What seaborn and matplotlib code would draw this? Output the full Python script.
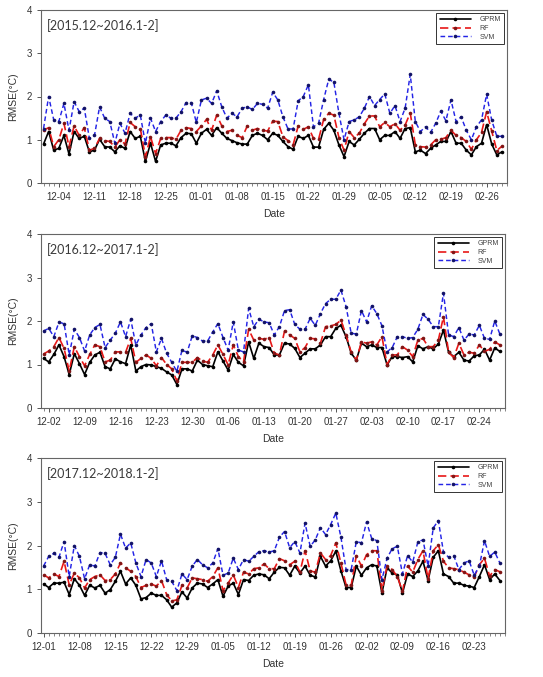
import numpy as np
import pandas as pd
import matplotlib
matplotlib.use("Agg")
import matplotlib.pyplot as plt
import matplotlib.dates as mdates
import seaborn as sns

# periodi (titolo, primo giorno, primo tick)
titoli = ["[2015.12~2016.1-2]", "[2016.12~2017.1-2]", "[2017.12~2018.1-2]"]
inizi = ["2015-12-01", "2016-12-01", "2017-12-01"]
primi_tick = ["2015-12-04", "2016-12-02", "2017-12-01"]

# 2015.12 ~ 2016.2 (91 giorni)
gprm_1 = [0.9, 1.19, 0.76, 0.8, 1.1, 0.67, 1.19, 1.03, 1.08, 0.72, 0.76, 1.01, 0.84, 0.83, 0.72,
          0.86, 0.8, 1.19, 1.03, 1.08, 0.5, 0.92, 0.5, 0.88, 0.92, 0.92, 0.86, 1.05, 1.15, 1.14,
          0.92, 1.15, 1.24, 1.1, 1.28, 1.15, 1.03, 0.98, 0.93, 0.9, 0.9, 1.1, 1.15, 1.1,
          1.0, 1.15, 1.1, 0.96, 0.84, 0.78, 1.08, 1.03, 1.1, 0.83, 0.83, 1.24, 1.38, 1.22, 0.88,
          0.61, 0.96, 0.88, 1.01, 1.15, 1.26, 1.26, 1.0, 1.1, 1.1, 1.19, 1.03, 1.26, 1.28, 0.72,
          0.76, 0.68, 0.8, 0.88, 0.96, 0.96, 1.19, 0.92, 0.92, 0.76, 0.65, 0.84, 0.92, 1.35,
          0.9, 0.65, 0.72]
rf_1 = [1.22, 1.28, 0.84, 1.0, 1.38, 0.84, 1.32, 1.1, 1.28, 0.76, 0.8, 1.03, 0.98, 0.96, 0.83,
        1.0, 0.9, 1.4, 1.3, 1.26, 0.61, 1.07, 0.68, 1.03, 1.05, 1.05, 1.01, 1.22, 1.28, 1.26,
        1.19, 1.32, 1.47, 1.22, 1.57, 1.32, 1.19, 1.22, 1.1, 1.05, 1.32, 1.22, 1.26, 1.22,
        1.2, 1.43, 1.42, 1.07, 0.98, 0.88, 1.32, 1.24, 1.3, 1.03, 1.01, 1.47, 1.61, 1.57, 1.05,
        0.76, 1.19, 1.05, 1.15, 1.37, 1.55, 1.55, 1.3, 1.4, 1.3, 1.37, 1.22, 1.34, 1.62, 0.88,
        0.84, 0.83, 0.88, 1.0, 1.01, 1.05, 1.22, 1.1, 1.05, 0.96, 0.78, 1.0, 1.17, 1.65,
        1.2, 0.75, 0.85]
svm_1 = [1.26, 2.0, 1.46, 1.42, 1.84, 1.22, 1.88, 1.65, 1.73, 1.03, 1.1, 1.76, 1.5, 1.42, 0.92,
         1.38, 1.15, 1.61, 1.5, 1.57, 0.92, 1.5, 1.19, 1.42, 1.57, 1.5, 1.5, 1.65, 1.86, 1.86,
         1.4, 1.92, 1.96, 1.84, 2.13, 1.76, 1.5, 1.61, 1.53, 1.73, 1.76, 1.7, 1.84, 1.82,
         1.73, 2.1, 1.92, 1.53, 1.25, 1.25, 1.9, 2.0, 2.27, 1.3, 1.38, 1.93, 2.4, 2.33, 1.61,
         1.0, 1.42, 1.46, 1.53, 1.73, 2.0, 1.79, 1.93, 2.06, 1.61, 1.79, 1.42, 1.73, 2.51, 1.42,
         1.19, 1.3, 1.17, 1.38, 1.66, 1.44, 1.92, 1.42, 1.53, 1.22, 1.0, 1.3, 1.46, 2.05,
         1.45, 1.08, 1.08]

# 2016.12 ~ 2017.2 (90 giorni)
gprm_2 = [1.14, 1.06, 1.23, 1.45, 1.18, 0.77, 1.25, 1.02, 0.77, 1.05, 1.22, 1.28, 0.95, 0.9, 1.13,
          1.06, 1.02, 1.45, 0.85, 0.95, 1.0, 0.99, 0.95, 0.91, 0.83, 0.76, 0.54, 0.9, 0.9, 0.85,
          1.1, 1.0, 0.97, 0.95, 1.29, 1.08, 0.87, 1.23, 1.05, 0.97, 1.52, 1.14, 1.49, 1.41,
          1.39, 1.22, 1.22, 1.49, 1.47, 1.37, 1.16, 1.26, 1.36, 1.36, 1.45, 1.64, 1.64, 1.83,
          1.9, 1.64, 1.26, 1.1, 1.49, 1.41, 1.45, 1.39, 1.39, 0.99, 1.18, 1.18, 1.16, 1.18, 1.06,
          1.43, 1.36, 1.41, 1.36, 1.47, 1.79, 1.28, 1.18, 1.28, 1.1,
          1.08, 1.2, 1.22, 1.35, 1.1, 1.38, 1.3]
rf_2 = [1.24, 1.31, 1.41, 1.62, 1.37, 0.85, 1.41, 1.18, 0.97, 1.23, 1.45, 1.41, 1.06, 1.1, 1.29,
        1.29, 1.28, 1.6, 1.05, 1.14, 1.22, 1.14, 0.97, 1.16, 1.0, 0.9, 0.62, 1.05, 1.05, 1.05,
        1.16, 1.08, 1.05, 1.22, 1.45, 1.23, 0.99, 1.45, 1.18, 1.06, 1.81, 1.56, 1.6, 1.58,
        1.62, 1.26, 1.22, 1.77, 1.68, 1.6, 1.29, 1.39, 1.6, 1.59, 1.49, 1.87, 1.89, 1.92,
        2.02, 1.68, 1.28, 1.1, 1.52, 1.49, 1.52, 1.45, 1.64, 1.0, 1.22, 1.22, 1.41, 1.33, 1.18,
        1.56, 1.6, 1.41, 1.41, 1.56, 2.1, 1.28, 1.16, 1.49, 1.22,
        1.28, 1.26, 1.45, 1.3, 1.35, 1.52, 1.45]
svm_2 = [1.77, 1.83, 1.64, 1.97, 1.94, 1.22, 1.81, 1.62, 1.31, 1.68, 1.85, 1.92, 1.39, 1.56, 1.72,
         1.98, 1.64, 2.04, 1.45, 1.68, 1.85, 1.94, 1.29, 1.6, 1.26, 1.05, 0.84, 1.33, 1.28, 1.66,
         1.62, 1.54, 1.54, 1.75, 1.94, 1.62, 1.33, 1.98, 1.33, 1.29, 2.29, 1.87, 2.04, 1.98,
         1.96, 1.68, 1.87, 2.24, 2.26, 1.92, 1.81, 1.81, 2.06, 1.9, 2.17, 2.4, 2.5, 2.5,
         2.71, 2.33, 1.72, 1.7, 2.24, 1.98, 2.35, 2.17, 1.89, 1.29, 1.39, 1.64, 1.64, 1.6, 1.62,
         1.81, 2.15, 2.04, 1.87, 1.87, 2.64, 1.68, 1.64, 1.85, 1.56,
         1.7, 1.68, 1.9, 1.6, 1.58, 2.0, 1.7]

# 2017.12 ~ 2018.2 (90 giorni)
gprm_3 = [1.12, 1.04, 1.14, 1.14, 1.16, 0.88, 1.24, 1.09, 0.86, 1.09, 1.03, 1.09, 0.91, 0.99, 1.18,
          1.41, 1.12, 1.26, 1.09, 0.78, 0.81, 0.91, 0.86, 0.86, 0.76, 0.59, 0.69, 0.94, 0.8, 1.03,
          1.14, 1.12, 1.04, 1.12, 1.22, 0.84, 1.07, 1.14, 0.88, 1.22, 1.2, 1.32, 1.35, 1.33,
          1.24, 1.39, 1.5, 1.49, 1.32, 1.53, 1.37, 1.53, 1.32, 1.28, 1.75, 1.53, 1.65, 1.87,
          1.42, 1.04, 1.04, 1.53, 1.32, 1.49, 1.56, 1.53, 0.91, 1.49, 1.37, 1.33, 0.91, 1.35, 1.29,
          1.42, 1.64, 1.2, 1.73, 1.88, 1.35, 1.29, 1.14, 1.14, 1.09, 1.07, 1.04, 1.29, 1.56,
          1.22, 1.35, 1.2]
rf_3 = [1.33, 1.26, 1.35, 1.29, 1.64, 1.1, 1.37, 1.26, 1.03, 1.22, 1.29, 1.33, 1.2, 1.22, 1.35,
        1.6, 1.49, 1.41, 1.29, 1.04, 1.09, 1.12, 1.07, 1.2, 0.88, 0.73, 0.76, 1.09, 1.03, 1.26,
        1.24, 1.22, 1.18, 1.29, 1.49, 0.97, 1.14, 1.33, 1.04, 1.39, 1.35, 1.47, 1.49, 1.58,
        1.47, 1.47, 1.7, 1.65, 1.56, 1.64, 1.39, 1.88, 1.42, 1.39, 1.83, 1.68, 1.77, 2.06,
        1.6, 1.1, 1.09, 1.77, 1.53, 1.79, 1.88, 1.88, 0.97, 1.53, 1.45, 1.29, 0.95, 1.53, 1.39,
        1.68, 1.88, 1.24, 1.88, 2.02, 1.64, 1.49, 1.47, 1.45, 1.39, 1.33, 1.28, 1.56, 1.71,
        1.3, 1.45, 1.4]
svm_3 = [1.53, 1.75, 1.82, 1.73, 2.09, 1.29, 2.0, 1.75, 1.24, 1.56, 1.53, 1.84, 1.82, 1.56, 1.73,
         2.26, 1.94, 2.06, 1.6, 1.29, 1.68, 1.6, 1.29, 1.65, 1.22, 1.18, 0.97, 1.35, 1.22, 1.53,
         1.68, 1.56, 1.49, 1.6, 1.93, 1.32, 1.37, 1.71, 1.45, 1.68, 1.64, 1.75, 1.86, 1.88,
         1.85, 1.88, 2.19, 2.32, 1.95, 2.09, 1.83, 2.51, 1.98, 2.13, 2.41, 2.25, 2.48, 2.74,
         2.19, 1.45, 1.45, 2.09, 2.06, 2.54, 2.16, 2.11, 1.22, 1.71, 1.93, 1.98, 1.35, 1.77, 1.62,
         2.08, 2.13, 1.53, 2.4, 2.57, 1.85, 1.73, 1.77, 1.45, 1.6, 1.65, 1.32, 1.53, 2.11,
         1.75, 1.85, 1.6]

gprm = [gprm_1, gprm_2, gprm_3]
rf = [rf_1, rf_2, rf_3]
svm = [svm_1, svm_2, svm_3]

sns.set_style("ticks")
plt.rcParams["font.family"] = ["Liberation Sans", "DejaVu Sans"]

fig = plt.figure(figsize=(5.43, 6.77), dpi=100)
posizioni = [
    [41 / 543, 1 - 183 / 677, 466 / 543, 173 / 677],
    [41 / 543, 1 - 408 / 677, 464 / 543, 174 / 677],
    [41 / 543, 1 - 633 / 677, 464 / 543, 175 / 677],
]

for i in range(3):
    ax = fig.add_axes(posizioni[i])
    giorni = pd.date_range(inizi[i], periods=len(gprm[i]), freq="D")
    sns.lineplot(x=giorni, y=gprm[i], ax=ax, color="black", lw=1.2, marker="o", markersize=2.6,
                 markerfacecolor="black", markeredgewidth=0, label="GPRM")
    sns.lineplot(x=giorni, y=rf[i], ax=ax, color="#e81818", lw=1.2, linestyle=(0, (5, 2.5)),
                 marker="o", markersize=2.6, markerfacecolor="#801515", markeredgewidth=0, label="RF")
    sns.lineplot(x=giorni, y=svm[i], ax=ax, color="#2424e6", lw=1.05, linestyle=(0, (3.2, 2)),
                 marker="o", markersize=2.6, markerfacecolor="#121266", markeredgewidth=0, label="SVM")

    ax.set_ylim(0, 4)
    ax.set_yticks([0, 1, 2, 3, 4])
    ax.set_xlim(giorni[0] - pd.Timedelta(days=0.5), giorni[-1] + pd.Timedelta(days=1))
    tick = pd.date_range(primi_tick[i], giorni[-1], freq="7D")
    ax.set_xticks(tick)
    ax.xaxis.set_major_formatter(mdates.DateFormatter("%m-%d"))
    ax.xaxis.set_minor_locator(mdates.DayLocator())
    ax.tick_params(axis="both", which="major", labelsize=7, length=3, width=0.7,
                   colors="#555555", labelcolor="#333333")
    ax.tick_params(axis="x", which="minor", length=1.8, width=0.5, colors="#555555")
    for sp in ax.spines.values():
        sp.set_visible(True)
        sp.set_color("#666666")
        sp.set_linewidth(0.8)

    ax.set_xlabel("Date", fontsize=7.5, color="#333333", labelpad=5)
    ax.set_ylabel("RMSE(°C)", fontsize=7.5, color="#333333", labelpad=6)
    ax.text(0.012, 0.95, titoli[i], transform=ax.transAxes, fontsize=9, va="top",
            family=["Lato", "DejaVu Sans"], color="#3a3a3a")

    leg = ax.legend(loc="upper right", fontsize=5, handlelength=4.5, frameon=True,
                    fancybox=False, borderpad=0.5, labelspacing=0.25, handletextpad=1.2,
                    borderaxespad=0.4)
    leg.get_frame().set_edgecolor("black")
    leg.get_frame().set_linewidth(0.7)
    for t in leg.get_texts():
        t.set_color("#444444")

fig.savefig("out.png", dpi=100)
